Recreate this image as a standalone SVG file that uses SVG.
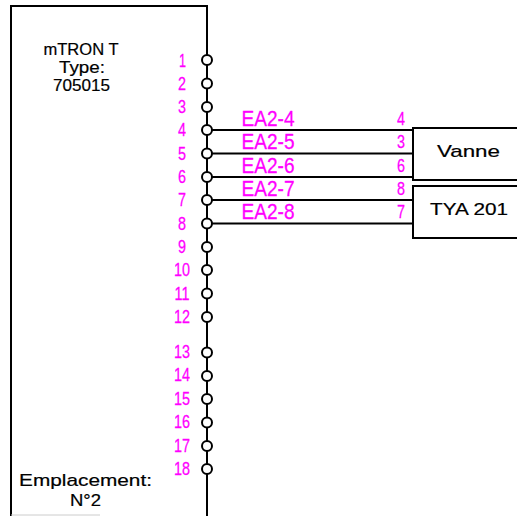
<svg xmlns="http://www.w3.org/2000/svg" width="517" height="516" viewBox="0 0 517 516">
<style>
.l{fill:none;stroke:#000;stroke-width:2}
.p{fill:#fff;stroke:#000;stroke-width:2}
text{font-family:"Liberation Sans",Arial,sans-serif}
.m{fill:#ff00ff;stroke:#ff00ff;stroke-width:.3;font-size:19px;text-anchor:middle}
.w{font-size:22px}
.k{fill:#000;stroke:#000;stroke-width:.2;font-size:17px;text-anchor:middle}
</style>
<rect width="517" height="516" fill="#fff"/>
<g id="connectors">
<path class="l" d="M207 130H413M207 153.500H413M207 177H413M207 200H413M207 223.500H413"/>
</g>
<g id="module">
<path class="l" d="M11 516V6H207V516"/>
<path d="M11 515H100" stroke="#ccc" stroke-width="1" fill="none"/>
<text class="k" x="81" y="55" textLength="75" lengthAdjust="spacingAndGlyphs">mTRON T</text>
<text class="k" x="82" y="73" textLength="46" lengthAdjust="spacingAndGlyphs">Type:</text>
<text class="k" x="81.500" y="91" textLength="57" lengthAdjust="spacingAndGlyphs">705015</text>
<text class="k" x="85.500" y="486" textLength="133" lengthAdjust="spacingAndGlyphs">Emplacement:</text>
<text class="k" x="85.500" y="506" textLength="31" lengthAdjust="spacingAndGlyphs">N°2</text>
</g>
<g id="terminals">
<circle class="p" cx="207" cy="60" r="5"/><circle class="p" cx="207" cy="83.500" r="5"/><circle class="p" cx="207" cy="107" r="5"/><circle class="p" cx="207" cy="130" r="5"/><circle class="p" cx="207" cy="153.500" r="5"/><circle class="p" cx="207" cy="177" r="5"/><circle class="p" cx="207" cy="200" r="5"/><circle class="p" cx="207" cy="223.500" r="5"/><circle class="p" cx="207" cy="247" r="5"/><circle class="p" cx="207" cy="270" r="5"/><circle class="p" cx="207" cy="293.500" r="5"/><circle class="p" cx="207" cy="317" r="5"/><circle class="p" cx="207" cy="352.500" r="5"/><circle class="p" cx="207" cy="376" r="5"/><circle class="p" cx="207" cy="399" r="5"/><circle class="p" cx="207" cy="422.500" r="5"/><circle class="p" cx="207" cy="446" r="5"/><circle class="p" cx="207" cy="469" r="5"/>
</g>
<g id="terminal-labels">
<text class="m" x="182.500" y="67" textLength="7" lengthAdjust="spacingAndGlyphs">1</text>
<text class="m" x="182" y="90" textLength="8" lengthAdjust="spacingAndGlyphs">2</text>
<text class="m" x="182" y="113" textLength="8" lengthAdjust="spacingAndGlyphs">3</text>
<text class="m" x="182" y="136" textLength="8" lengthAdjust="spacingAndGlyphs">4</text>
<text class="m" x="182" y="160" textLength="8" lengthAdjust="spacingAndGlyphs">5</text>
<text class="m" x="182" y="183" textLength="8" lengthAdjust="spacingAndGlyphs">6</text>
<text class="m" x="182" y="206" textLength="8" lengthAdjust="spacingAndGlyphs">7</text>
<text class="m" x="182" y="230" textLength="8" lengthAdjust="spacingAndGlyphs">8</text>
<text class="m" x="182" y="253" textLength="8" lengthAdjust="spacingAndGlyphs">9</text>
<text class="m" x="182" y="276" textLength="16" lengthAdjust="spacingAndGlyphs">10</text>
<text class="m" x="182" y="300" textLength="15" lengthAdjust="spacingAndGlyphs">11</text>
<text class="m" x="182" y="323" textLength="16" lengthAdjust="spacingAndGlyphs">12</text>
<text class="m" x="182" y="358" textLength="16" lengthAdjust="spacingAndGlyphs">13</text>
<text class="m" x="182" y="381" textLength="16" lengthAdjust="spacingAndGlyphs">14</text>
<text class="m" x="182" y="405" textLength="16" lengthAdjust="spacingAndGlyphs">15</text>
<text class="m" x="182" y="428" textLength="16" lengthAdjust="spacingAndGlyphs">16</text>
<text class="m" x="182" y="452" textLength="16" lengthAdjust="spacingAndGlyphs">17</text>
<text class="m" x="182" y="475" textLength="16" lengthAdjust="spacingAndGlyphs">18</text>
</g>
<g id="wire-labels">
<text class="m w" x="268" y="126" textLength="53" lengthAdjust="spacingAndGlyphs">EA2-4</text>
<text class="m w" x="268" y="149" textLength="53" lengthAdjust="spacingAndGlyphs">EA2-5</text>
<text class="m w" x="268" y="173" textLength="53" lengthAdjust="spacingAndGlyphs">EA2-6</text>
<text class="m w" x="268" y="196" textLength="53" lengthAdjust="spacingAndGlyphs">EA2-7</text>
<text class="m w" x="268" y="219" textLength="53" lengthAdjust="spacingAndGlyphs">EA2-8</text>
<text class="m" x="401" y="125" textLength="8" lengthAdjust="spacingAndGlyphs">4</text>
<text class="m" x="401" y="148" textLength="8" lengthAdjust="spacingAndGlyphs">3</text>
<text class="m" x="401" y="172" textLength="8" lengthAdjust="spacingAndGlyphs">6</text>
<text class="m" x="401" y="195" textLength="8" lengthAdjust="spacingAndGlyphs">8</text>
<text class="m" x="401" y="218" textLength="8" lengthAdjust="spacingAndGlyphs">7</text>
</g>
<g id="vanne">
<path class="l" d="M517 128H413V180H517"/>
<text class="k" x="468.500" y="157" textLength="63" lengthAdjust="spacingAndGlyphs">Vanne</text>
</g>
<g id="tya201">
<path class="l" d="M517 186H413V238H517"/>
<text class="k" x="469" y="215" textLength="78" lengthAdjust="spacingAndGlyphs">TYA 201</text>
</g>
</svg>
